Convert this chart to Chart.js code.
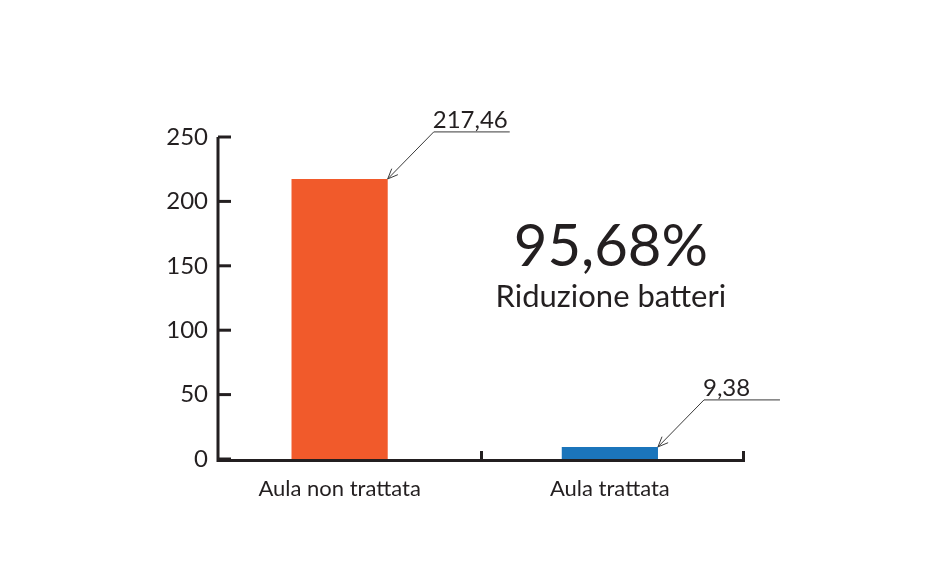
<!DOCTYPE html>
<html>
<head>
<meta charset="utf-8">
<script src="https://cdn.jsdelivr.net/npm/chart.js@4.4.1/dist/chart.umd.min.js"></script>
<style>
    html, body { margin: 0; padding: 0; background: #ffffff; }
    #wrap { width: 950px; height: 587px; position: relative; }
</style>
</head>
<body>
<div id="wrap"><canvas id="barChart"></canvas></div>
<script>
const categories = ['Aula non trattata', 'Aula trattata'];
const values = [217.46, 9.38];
const valueLabels = ['217,46', '9,38'];
const barColors = ['#F15A2B', '#1B75BB'];
const yTicks = [0, 50, 100, 150, 200, 250];
const xBoundaries = [0.525, 1.5];
const headline = '95,68%';
const subline = 'Riduzione batteri';

const INK = '#231F20';
const FONT = 'Lato, "Open Sans", sans-serif';

// axis lines + inward tick marks, drawn from the scales
const axisPlugin = {
    id: 'axisPlugin',
    afterDraw(chart) {
        const ctx = chart.ctx;
        const x = chart.scales.x;
        const y = chart.scales.y;
        const left = x.left, right = x.right;
        const bottom = y.getPixelForValue(0);
        const top = y.getPixelForValue(yTicks[yTicks.length - 1]);

        ctx.save();
        ctx.strokeStyle = INK;
        ctx.lineWidth = 3;
        ctx.lineCap = 'butt';

        ctx.beginPath();
        ctx.moveTo(left, top);
        ctx.lineTo(left, bottom + 1.5);
        ctx.lineTo(right, bottom + 1.5);
        ctx.stroke();

        yTicks.forEach(v => {
            const py = y.getPixelForValue(v);
            ctx.beginPath();
            ctx.moveTo(left, py);
            ctx.lineTo(left + 13, py);
            ctx.stroke();
        });

        xBoundaries.forEach(v => {
            const px = Math.min(x.getPixelForValue(v), right - 1.5);
            ctx.beginPath();
            ctx.moveTo(px, bottom + 1.5);
            ctx.lineTo(px, bottom - 8);
            ctx.stroke();
        });
        ctx.restore();
    }
};

// leader lines with arrowheads and value labels, plus headline text
const calloutPlugin = {
    id: 'calloutPlugin',
    afterDatasetsDraw(chart) {
        const ctx = chart.ctx;
        const meta = chart.getDatasetMeta(0);
        ctx.save();
        meta.data.forEach((bar, i) => {
            const tipX = bar.x + bar.width / 2;
            const tipY = bar.y;
            const elbowX = tipX + 46;
            const elbowY = tipY - 47;
            const endX = elbowX + 76;

            ctx.strokeStyle = '#3a3a3a';
            ctx.lineWidth = 1;
            ctx.beginPath();
            ctx.moveTo(tipX, tipY);
            ctx.lineTo(elbowX, elbowY);
            ctx.lineTo(endX, elbowY);
            ctx.stroke();

            // open arrowhead
            const ang = Math.atan2(elbowY - tipY, elbowX - tipX);
            const len = 11;
            ctx.beginPath();
            ctx.moveTo(tipX + len * Math.cos(ang - 0.4), tipY + len * Math.sin(ang - 0.4));
            ctx.lineTo(tipX, tipY);
            ctx.lineTo(tipX + len * Math.cos(ang + 0.4), tipY + len * Math.sin(ang + 0.4));
            ctx.stroke();

            ctx.fillStyle = INK;
            ctx.font = '24px ' + FONT;
            ctx.textAlign = 'left';
            ctx.textBaseline = 'alphabetic';
            ctx.fillText(valueLabels[i], elbowX - 1, elbowY - 4);
        });

        const area = chart.chartArea;
        const cx = chart.scales.x.getPixelForValue(1);
        ctx.fillStyle = INK;
        ctx.textAlign = 'center';
        ctx.textBaseline = 'alphabetic';
        ctx.font = '58px ' + FONT;
        ctx.fillText(headline, cx + 1, area.top + 129);
        ctx.font = '31px ' + FONT;
        ctx.fillText(subline, cx + 1, area.top + 170);
        ctx.restore();
    }
};

new Chart(document.getElementById('barChart').getContext('2d'), {
    type: 'bar',
    data: {
        datasets: [{
            data: values.map((v, i) => ({ x: i, y: v })),
            backgroundColor: barColors,
            borderWidth: 0,
            barPercentage: 0.356,
            categoryPercentage: 1
        }]
    },
    options: {
        responsive: true,
        maintainAspectRatio: false,
        animation: false,
        devicePixelRatio: 1,
        layout: { padding: { top: 137, right: 205, left: 0, bottom: 0 } },
        plugins: {
            legend: { display: false },
            tooltip: { enabled: false }
        },
        scales: {
            x: {
                type: 'linear',
                offset: false,
                min: -0.45,
                max: 1.5,
                afterBuildTicks: s => { s.ticks = categories.map((c, i) => ({ value: i })); },
                grid: { display: false, drawTicks: false, offset: false },
                border: { display: false },
                ticks: {
                    color: INK,
                    font: { family: FONT, size: 22 },
                    padding: 17,
                    autoSkip: false,
                    maxRotation: 0,
                    callback: v => categories[v]
                },
                afterFit: s => { s.height = 128; }
            },
            y: {
                min: 0,
                max: 250,
                afterBuildTicks: s => { s.ticks = yTicks.map(v => ({ value: v })); },
                grid: { display: false, drawTicks: false },
                border: { display: false },
                ticks: {
                    color: INK,
                    font: { family: FONT, size: 24 },
                    padding: 10
                },
                afterFit: s => { s.width = 218; }
            }
        }
    },
    plugins: [axisPlugin, calloutPlugin]
});
</script>
</body>
</html>
